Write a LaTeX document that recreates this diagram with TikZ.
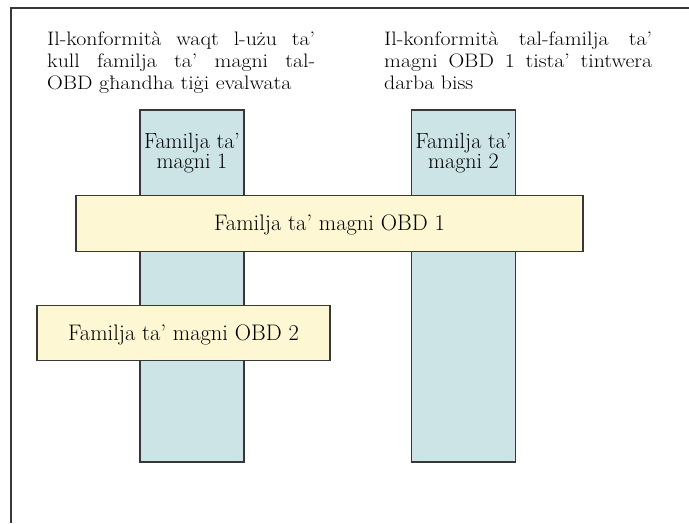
\documentclass[tikz,border=0pt]{standalone}
\usepackage{tikz}
\usepackage{graphicx}
\definecolor{colblue}{RGB}{204,228,230}
\definecolor{boxyellow}{RGB}{253,247,211}
\definecolor{edge}{RGB}{55,55,55}
\newcommand{\jline}[1]{\scalebox{1.12}[1]{\hbox to 239.3pt{#1}}}
\newcommand{\nline}[1]{\scalebox{1.12}[1]{\hbox{#1}}}
\tikzset{
  col/.style={draw=edge, line width=1.8pt, fill=colblue, minimum width=104pt, minimum height=352pt, inner sep=0pt, outer sep=0pt},
  obd/.style={draw=edge, line width=1.8pt, fill=boxyellow, inner sep=0pt, outer sep=0pt, text height=17pt, text depth=3pt, font=\fontsize{22.5}{26}\selectfont},
  lbl/.style={anchor=base, inner sep=0pt, font=\fontsize{22}{24}\selectfont},
  para/.style={anchor=base west, inner sep=0pt, font=\fontsize{19.5}{22}\selectfont},
}
\begin{document}
\begin{tikzpicture}[x=1pt,y=-1pt]
\useasboundingbox (0,0) rectangle (689,523);
\fill[white] (0,0) rectangle (689,523);
% frame
\coordinate (ftr) at (689,8);
\coordinate (ftl) at (11,8);
\coordinate (fbl) at (11,523);
\draw[edge, line width=1.8pt] (ftr) -- (ftl) -- (fbl);
% headings
\node[para] (h1a) at (47,45) {\jline{Il-konformità\hfill waqt\hfill l-użu\hfill ta’}};
\node[para] (h1b) at (47,67) {\jline{kull\hfill familja\hfill ta’\hfill magni\hfill tal-}};
\node[para] (h1c) at (47,89) {\nline{OBD għandha tiġi evalwata}};
\node[para] (h2a) at (384,45) {\jline{Il-konformità\hfill tal-familja\hfill ta’}};
\node[para] (h2b) at (384,67) {\jline{magni\hfill OBD\hfill 1\hfill tista’\hfill tintwera}};
\node[para] (h2c) at (384,89) {\nline{darba biss}};
% columns
\node[col] (c1) at (192,286) {};
\node[col] (c2) at (463.5,286) {};
\node[lbl] (l1a) at (192,148) {Familja ta’};
\node[lbl] (l1b) at (192,168) {magni 1};
\node[lbl] (l2a) at (463.5,148) {Familja ta’};
\node[lbl] (l2b) at (463.5,168) {magni 2};
% OBD boxes
\node[obd, minimum width=507pt, minimum height=56pt] (o1) at (329.5,223.5) {Familja ta’ magni OBD 1};
\node[obd, minimum width=293pt, minimum height=55pt] (o2) at (183.5,333) {Familja ta’ magni OBD 2};
\end{tikzpicture}
\end{document}
